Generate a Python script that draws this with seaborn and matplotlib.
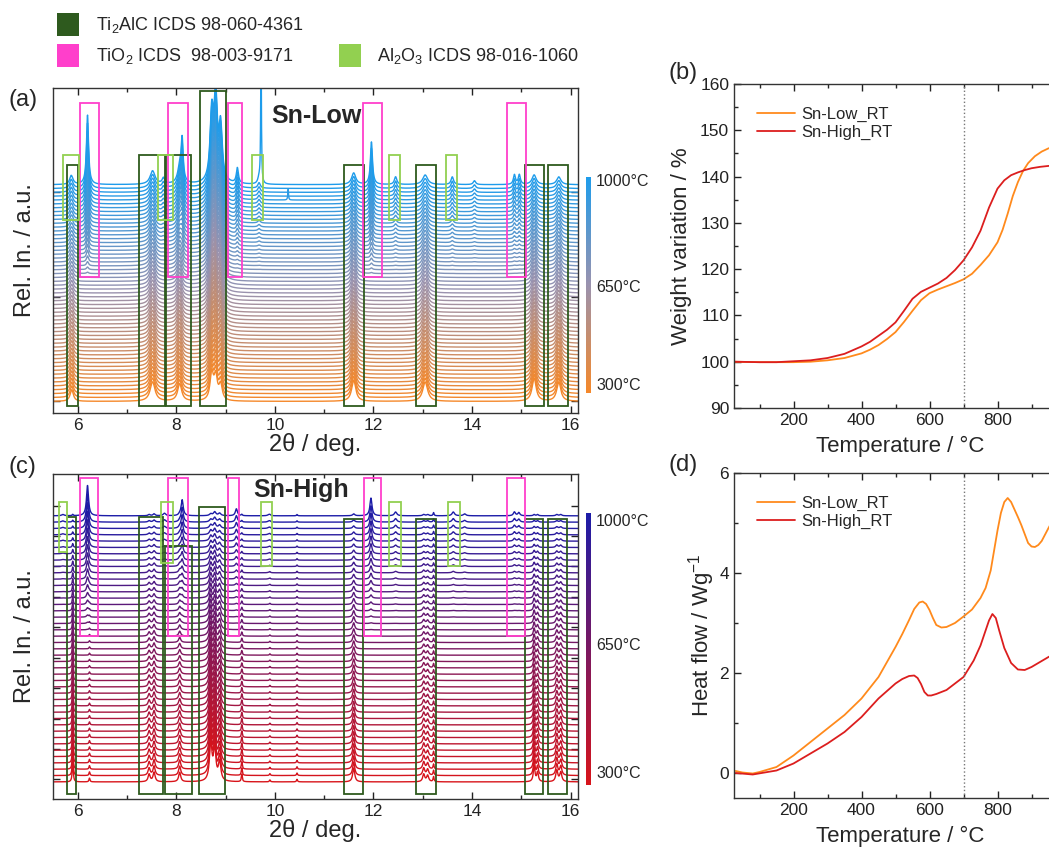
import numpy as np
import pandas as pd
import matplotlib.pyplot as plt
import seaborn as sns
from matplotlib.colors import LinearSegmentedColormap, Normalize
from matplotlib.patches import Rectangle
from matplotlib.cm import ScalarMappable
from matplotlib.ticker import MultipleLocator

# ---------------- XRD peak tables (2theta, height in line spacings) ----------------
# Sn-Low
low_n_scans = 57
low_ti2alc_pos = [5.88, 7.52, 8.07, 8.72, 8.80, 8.90, 11.60, 13.05, 15.26, 15.76]
low_ti2alc_h300 = [3.0, 5.0, 4.5, 7.0, 6.0, 4.0, 5.5, 5.0, 6.0, 5.0]
low_ti2alc_h1000 = [1.5, 3.5, 4.0, 17.0, 21.0, 14.0, 3.0, 2.5, 2.5, 2.0]
low_ti2alc_w = [0.04, 0.06, 0.05, 0.04, 0.04, 0.04, 0.05, 0.06, 0.05, 0.05]
low_tio2_pos = [6.20, 8.12, 9.24, 11.96, 14.86, 14.96]
low_tio2_h = [18.0, 10.5, 4.0, 11.0, 2.5, 2.5]
low_al2o3_pos = [5.86, 7.74, 9.68, 12.45, 13.60, 14.05]
low_al2o3_h = [1.0, 1.5, 1.5, 2.0, 2.0, 1.0]
low_spike_pos = [9.72, 10.27]
low_spike_scan = [56, 52]
low_spike_h = [40.0, 3.0]

# Sn-High
high_n_scans = 43
high_ti2alc_pos = [5.90, 7.45, 7.55, 8.07, 8.70, 8.78, 8.88, 11.60, 13.02, 13.10, 15.26, 15.33, 15.72, 15.80]
high_ti2alc_h300 = [3.5, 1.2, 1.5, 1.5, 6.0, 5.0, 3.0, 2.2, 1.2, 1.0, 2.5, 1.5, 1.8, 1.5]
high_ti2alc_h1000 = [0.2, 0.2, 0.3, 0.2, 0.3, 0.6, 0.4, 0.3, 0.2, 0.2, 0.2, 0.2, 0.2, 0.2]
high_ti2alc_w = [0.012, 0.025, 0.025, 0.025, 0.03, 0.03, 0.03, 0.025, 0.025, 0.025, 0.02, 0.02, 0.025, 0.025]
high_misc_pos = [6.24, 9.33, 9.90, 10.45, 13.22]
high_misc_h300 = [0.6, 1.2, 0.3, 0.4, 0.8]
high_misc_h1000 = [0.0, 0.2, 0.1, 0.2, 0.5]
high_tio2_pos = [6.20, 8.12, 9.22, 11.95, 14.86, 14.95]
high_tio2_h = [4.8, 2.5, 1.1, 2.8, 0.6, 0.5]
high_al2o3_pos = [5.70, 7.76, 9.88, 12.45, 13.62, 13.85]
high_al2o3_h = [0.2, 0.4, 0.2, 0.6, 0.6, 0.3]

# ---------------- TGA / DSC curves ----------------
tga_low_T = [25, 100, 150, 200, 250, 300, 350, 400, 425, 450, 475, 500, 525, 550, 575, 600, 625, 650, 675, 700,
             725, 750, 775, 800, 815, 830, 845, 860, 875, 890, 910, 930, 950, 975, 1000]
tga_low_w = [100.0, 99.9, 99.9, 99.9, 100.0, 100.3, 100.8, 101.8, 102.6, 103.6, 104.9, 106.4, 108.6, 111.0, 113.3,
             114.8, 115.6, 116.3, 117.0, 117.8, 119.0, 120.9, 123.0, 125.8, 128.5, 132.0, 135.8, 138.8, 141.2,
             142.9, 144.4, 145.4, 146.1, 146.6, 146.9]
tga_high_T = [25, 100, 150, 200, 250, 300, 350, 400, 425, 450, 475, 500, 525, 550, 575, 600, 625, 650, 675, 700,
              725, 750, 775, 800, 820, 840, 860, 880, 900, 925, 950, 975, 1000]
tga_high_w = [100.0, 99.9, 99.9, 100.1, 100.3, 100.8, 101.7, 103.3, 104.3, 105.6, 106.9, 108.5, 111.0, 113.6,
              115.1, 116.0, 116.9, 118.1, 119.8, 121.9, 124.7, 128.3, 133.3, 137.4, 139.2, 140.3, 140.9, 141.4,
              141.8, 142.1, 142.3, 142.4, 142.5]

dsc_low_T = [30, 50, 80, 100, 150, 200, 250, 300, 350, 400, 450, 500, 520, 540, 555, 570, 580, 590, 600, 610, 620,
             635, 650, 675, 700, 725, 750, 765, 780, 790, 800, 810, 820, 830, 840, 850, 860, 870, 880, 890, 900,
             910, 920, 930, 950, 975, 1000]
dsc_low_q = [0.04, 0.01, -0.01, 0.02, 0.12, 0.35, 0.62, 0.89, 1.16, 1.49, 1.92, 2.52, 2.78, 3.06, 3.28, 3.41, 3.43,
             3.38, 3.26, 3.10, 2.96, 2.91, 2.92, 3.00, 3.13, 3.27, 3.50, 3.70, 4.05, 4.45, 4.85, 5.20, 5.42, 5.50,
             5.42, 5.27, 5.12, 4.96, 4.78, 4.60, 4.53, 4.52, 4.56, 4.64, 4.90, 5.20, 5.50]
dsc_high_T = [30, 80, 150, 200, 250, 300, 350, 400, 450, 500, 520, 540, 555, 565, 575, 585, 595, 605, 620, 650, 700,
              730, 750, 765, 775, 785, 795, 805, 820, 840, 860, 880, 900, 950, 1000]
dsc_high_q = [0.0, -0.03, 0.05, 0.19, 0.39, 0.59, 0.82, 1.12, 1.49, 1.79, 1.88, 1.94, 1.95, 1.90, 1.78, 1.62, 1.55,
              1.55, 1.58, 1.66, 1.92, 2.25, 2.55, 2.85, 3.05, 3.18, 3.10, 2.85, 2.50, 2.20, 2.07, 2.06, 2.12, 2.32,
              2.50]

# phase box colours
c_ti2alc = '#2E5A1E'
c_tio2 = '#FF3FCB'
c_al2o3 = '#92D050'

sns.set_theme(style='ticks')
plt.rcParams['font.family'] = ['Liberation Sans', 'DejaVu Sans']
plt.rcParams['mathtext.fontset'] = 'custom'
plt.rcParams['mathtext.rm'] = 'Liberation Sans'
plt.rcParams['mathtext.it'] = 'Liberation Sans:italic'
plt.rcParams['mathtext.bf'] = 'Liberation Sans:bold'

fig = plt.figure(figsize=(10.49, 8.49), dpi=100)
W, H = 1049, 849


def px_axes(left, top, right, bottom):
    return fig.add_axes([left / W, 1 - bottom / H, (right - left) / W, (bottom - top) / H])


grid = np.linspace(5.5, 16.15, 2400)


def lorentz(pos, h, w):
    pos = np.asarray(pos, float)[:, None]
    h = np.asarray(h, float)[:, None]
    w = np.broadcast_to(np.asarray(w, float), pos.shape[:1])[:, None]
    return (h / (1 + ((grid - pos) / w) ** 2)).sum(axis=0)


def scans(n, fixed, misc, tio2, al2o3, onset, tio2_w, spikes=None):
    temps = np.linspace(300, 1000, n)
    frames = []
    for i, T in enumerate(temps):
        f = (T - 300) / 700
        g = np.clip((T - onset) / (1000 - onset), 0, 1) ** 1.5
        pos, h300, h1000, w = fixed
        y = lorentz(pos, np.array(h300) + (np.array(h1000) - np.array(h300)) * f, w)
        if misc is not None:
            y += lorentz(misc[0], np.array(misc[1]) + (np.array(misc[2]) - np.array(misc[1])) * f, 0.012)
        y += lorentz(tio2[0], np.array(tio2[1]) * g, tio2_w)
        y += lorentz(al2o3[0], np.array(al2o3[1]) * g, 0.03)
        if spikes is not None:
            for p, s, hh in zip(*spikes):
                if s == i:
                    y += lorentz([p], [hh], 0.008)
        frames.append(pd.DataFrame({'two_theta': grid, 'intensity': y + i, 'temp': T}))
    return pd.concat(frames, ignore_index=True)


def style_xrd(ax, ylim, yticks):
    ax.set_xlim(5.5, 16.15)
    ax.set_ylim(*ylim)
    ax.set_xticks([6, 8, 10, 12, 14, 16])
    ax.xaxis.set_minor_locator(MultipleLocator(1))
    ax.set_yticks(yticks)
    ax.set_yticklabels([])
    ax.tick_params(direction='in', top=True, right=True, length=5, width=1, labelsize=12.5, colors='#222')
    ax.tick_params(which='minor', direction='in', top=True, length=3)
    ax.set_xlabel('2θ / deg.', fontsize=17, labelpad=0)
    ax.set_ylabel('Rel. In. / a.u.', fontsize=17)
    ax.yaxis.set_label_coords(-0.032, 0.5)
    for s in ax.spines.values():
        s.set_linewidth(1.0)
        s.set_color('#333')


def add_boxes(ax, boxes, color):
    for x0, x1, y0, y1 in boxes:
        ax.add_patch(Rectangle((x0, y0), x1 - x0, y1 - y0, transform=ax.get_xaxis_transform(),
                               fill=False, edgecolor=color, lw=1.3, zorder=5))


# ---------------- (a) Sn-Low ----------------
cmap_low = LinearSegmentedColormap.from_list('low', ['#F5882A', '#9A92AE', '#1E9CEB'])
ax_a = px_axes(53, 88, 578, 413)
df_low = scans(low_n_scans,
               (low_ti2alc_pos, low_ti2alc_h300, low_ti2alc_h1000, low_ti2alc_w),
               None, (low_tio2_pos, low_tio2_h), (low_al2o3_pos, low_al2o3_h), 690, 0.025,
               (low_spike_pos, low_spike_scan, low_spike_h))
sns.lineplot(data=df_low, x='two_theta', y='intensity', hue='temp', units='temp', estimator=None,
             palette=cmap_low, hue_norm=(300, 1000), sort=False, legend=False, lw=1.0, ax=ax_a)
style_xrd(ax_a, (-3, 81), [0, 27, 54])
add_boxes(ax_a, [(5.78, 6.00, 0.021, 0.7625), (7.24, 7.77, 0.021, 0.795), (7.79, 8.30, 0.021, 0.795),
                 (8.48, 9.01, 0.021, 0.99), (11.40, 11.80, 0.021, 0.7625), (12.86, 13.27, 0.021, 0.7625),
                 (15.07, 15.46, 0.021, 0.7625), (15.54, 15.95, 0.021, 0.7625)], c_ti2alc)
add_boxes(ax_a, [(6.05, 6.43, 0.418, 0.955), (7.84, 8.24, 0.418, 0.955), (9.05, 9.33, 0.418, 0.955),
                 (11.78, 12.17, 0.418, 0.955), (14.70, 15.09, 0.418, 0.955)], c_tio2)
add_boxes(ax_a, [(5.70, 6.02, 0.594, 0.795), (7.63, 7.94, 0.594, 0.795), (9.54, 9.76, 0.594, 0.795),
                 (12.31, 12.54, 0.594, 0.795), (13.47, 13.69, 0.594, 0.795)], c_al2o3)
ax_a.text(9.92, 0.915, 'Sn-Low', transform=ax_a.get_xaxis_transform(), fontsize=18,
          fontweight='bold', va='center', ha='left', zorder=6)

# ---------------- (c) Sn-High ----------------
cmap_high = LinearSegmentedColormap.from_list('high', ['#D8141A', '#1C1CA8'])
ax_c = px_axes(53, 474, 578, 799)
df_high = scans(high_n_scans,
                (high_ti2alc_pos, high_ti2alc_h300, high_ti2alc_h1000, high_ti2alc_w),
                (high_misc_pos, high_misc_h300, high_misc_h1000),
                (high_tio2_pos, high_tio2_h), (high_al2o3_pos, high_al2o3_h), 680, 0.025)
sns.lineplot(data=df_high, x='two_theta', y='intensity', hue='temp', units='temp', estimator=None,
             palette=cmap_high, hue_norm=(300, 1000), sort=False, legend=False, lw=1.0, ax=ax_c)
style_xrd(ax_c, (-2.7, 48.6), [0.4 + 4.8 * k for k in range(10)])
add_boxes(ax_c, [(5.78, 5.96, 0.015, 0.869), (7.24, 7.73, 0.015, 0.869), (7.78, 8.31, 0.015, 0.78),
                 (8.47, 8.99, 0.015, 0.899), (11.40, 11.78, 0.015, 0.861), (12.86, 13.27, 0.015, 0.861),
                 (15.07, 15.44, 0.015, 0.861), (15.54, 15.93, 0.015, 0.861)], c_ti2alc)
add_boxes(ax_c, [(6.05, 6.41, 0.502, 0.988), (7.84, 8.24, 0.502, 0.988), (9.05, 9.28, 0.502, 0.988),
                 (11.80, 12.15, 0.502, 0.988), (14.70, 15.07, 0.502, 0.988)], c_tio2)
add_boxes(ax_c, [(5.63, 5.78, 0.76, 0.915), (7.69, 7.94, 0.727, 0.915), (9.72, 9.94, 0.716, 0.915),
                 (12.31, 12.55, 0.716, 0.915), (13.51, 13.75, 0.716, 0.915)], c_al2o3)
ax_c.text(9.57, 0.952, 'Sn-High', transform=ax_c.get_xaxis_transform(), fontsize=18,
          fontweight='bold', va='center', ha='left', zorder=6)

# ---------------- colour bars ----------------
for (top, bottom, cmap, ly) in [(177, 393, cmap_low, (182, 288, 386)), (513, 785, cmap_high, (521, 645, 773))]:
    cax = px_axes(586, top, 591, bottom)
    cb = fig.colorbar(ScalarMappable(Normalize(300, 1000), cmap), cax=cax)
    cb.outline.set_visible(False)
    cb.set_ticks([])
    for lab, y in zip(['1000°C', '650°C', '300°C'], ly):
        fig.text(596 / W, 1 - y / H, lab, fontsize=11.5, va='center', ha='left')

# ---------------- (b) TGA ----------------
c_low = '#FF8A1C'
c_high = '#DC1E1E'


def style_thermal(ax):
    ax.set_xlim(25, 1000)
    ax.set_xticks([200, 400, 600, 800])
    ax.xaxis.set_minor_locator(MultipleLocator(100))
    ax.tick_params(direction='in', top=True, length=5, width=1, labelsize=12.5, colors='#222')
    ax.tick_params(which='minor', direction='in', top=True, length=3)
    ax.axvline(700, color='#777', ls=':', lw=1.0)
    ax.set_xlabel('Temperature / °C', fontsize=16, labelpad=6)
    ax.legend(loc='upper left', bbox_to_anchor=(0.069, 0.93), frameon=False, fontsize=12,
              handlelength=2.3, handletextpad=0.35, labelspacing=0.2, borderpad=0, borderaxespad=0)
    for s in ax.spines.values():
        s.set_linewidth(1.0)
        s.set_color('#333')


ax_b = px_axes(734, 84, 1065.5, 408)
sns.lineplot(x=tga_low_T, y=tga_low_w, color=c_low, lw=1.3, label='Sn-Low_RT', ax=ax_b)
sns.lineplot(x=tga_high_T, y=tga_high_w, color=c_high, lw=1.3, label='Sn-High_RT', ax=ax_b)
ax_b.set_ylim(90, 160)
ax_b.set_yticks(range(90, 161, 10))
ax_b.yaxis.set_minor_locator(MultipleLocator(5))
ax_b.set_ylabel('Weight variation / %', fontsize=16, labelpad=6)
style_thermal(ax_b)

# ---------------- (d) DSC ----------------
ax_d = px_axes(734, 473, 1065.5, 798)
sns.lineplot(x=dsc_low_T, y=dsc_low_q, color=c_low, lw=1.3, label='Sn-Low_RT', ax=ax_d)
sns.lineplot(x=dsc_high_T, y=dsc_high_q, color=c_high, lw=1.3, label='Sn-High_RT', ax=ax_d)
ax_d.set_ylim(-0.5, 6)
ax_d.set_yticks([0, 2, 4, 6])
ax_d.yaxis.set_minor_locator(MultipleLocator(1))
ax_d.set_ylabel('Heat flow / Wg$^{-1}$', fontsize=16, labelpad=2)
style_thermal(ax_d)

# ---------------- panel labels ----------------
for lab, x, y in [('(a)', 8, 100), ('(c)', 8, 467), ('(b)', 668, 73), ('(d)', 668, 465)]:
    fig.text(x / W, 1 - y / H, lab, fontsize=17, va='center', ha='left')

# ---------------- phase legend ----------------
legend_items = [('Ti$_2$AlC ICDS 98-060-4361', c_ti2alc, 57, 13, 96),
                ('TiO$_2$ ICDS  98-003-9171', c_tio2, 57, 44, 96),
                ('Al$_2$O$_3$ ICDS 98-016-1060', c_al2o3, 339, 44, 377)]
for text, col, x, y, tx in legend_items:
    fig.add_artist(Rectangle((x / W, 1 - (y + 23) / H), 22 / W, 23 / H, transform=fig.transFigure,
                             facecolor=col, edgecolor='none'))
    fig.text(tx / W, 1 - (y + 12) / H, text, fontsize=13, va='center', ha='left')

fig.savefig('out.png', dpi=100)
